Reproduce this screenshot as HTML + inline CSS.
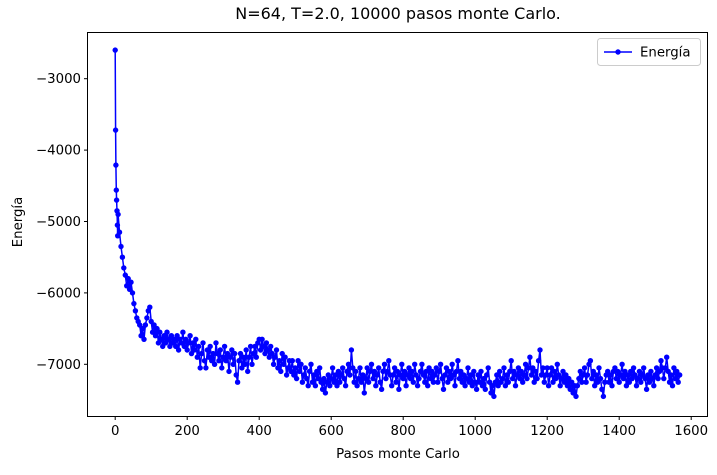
<!DOCTYPE html>
<html><head><meta charset="utf-8"><style>
body{margin:0;background:#fff;width:717px;height:470px;overflow:hidden}
svg{font-family:"DejaVu Sans","Liberation Sans",sans-serif}
</style></head><body>
<svg id="chart" width="717" height="470">
<text x="398" y="19" font-size="16" text-anchor="middle">N=64, T=2.0, 10000 pasos monte Carlo.</text>
<text x="398" y="458" font-size="13.3" text-anchor="middle">Pasos monte Carlo</text>
<text x="22" y="222" font-size="13.3" text-anchor="middle" transform="rotate(-90 22 222)">Energía</text>
<g id="ticks"></g>
<g id="series"></g>
<rect x="87.5" y="32.5" width="620" height="384" fill="none" stroke="#000" stroke-width="1"/>
<g>
<rect x="597.5" y="38.5" width="103" height="27" rx="3" fill="#fff" stroke="#ccc"/>
<line x1="604" y1="52" x2="632" y2="52" stroke="#0000ff" stroke-width="1.5"/>
<circle cx="618" cy="52" r="2.7" fill="#0000ff"/>
<text x="640" y="56.5" font-size="13.3">Energía</text>
</g>
</svg>
<script>
const earlySteps=[0,1,2,3,4,5,6,7];
const earlyEnergy=[-2600,-3720,-4210,-4560,-4700,-4850,-5050,-5200];
const stepStride=4;
const energy=[
-4900,-5150,-5350,-5500,-5650,-5750,-5900,-5800,-5950,-5850,-6000,-6150,-6250,-6350,-6400,-6450,-6600,-6500,-6650,-6450,
-6350,-6250,-6200,-6400,-6550,-6450,-6600,-6500,-6700,-6550,-6650,-6750,-6600,-6700,-6550,-6650,-6750,-6600,-6700,-6650,
-6750,-6600,-6800,-6650,-6700,-6550,-6750,-6650,-6800,-6700,-6600,-6850,-6700,-6800,-6650,-6900,-6750,-7050,-6850,-6700,
-6950,-7050,-6800,-6900,-6750,-6950,-6850,-7000,-6700,-6850,-6950,-6800,-7050,-6900,-6750,-6950,-6850,-7100,-6900,-6800,
-7000,-6850,-7150,-7250,-6950,-6850,-7050,-6900,-7000,-6800,-7100,-6900,-6750,-7000,-6850,-6750,-6900,-6700,-6650,-6800,
-6650,-6750,-6850,-6700,-6800,-6900,-6750,-6850,-7000,-6900,-6800,-7050,-6950,-7100,-6850,-7000,-6900,-7150,-7050,-6950,
-7100,-6950,-7150,-7050,-7200,-6950,-7100,-7000,-7250,-7150,-7050,-7200,-7300,-7100,-7000,-7250,-7150,-7300,-7100,-7200,
-7050,-7250,-7350,-7200,-7400,-7250,-7150,-7300,-7200,-7050,-7250,-7150,-7300,-7100,-7250,-7150,-7050,-7200,-7300,-7100,
-7000,-7150,-6800,-7050,-7250,-7100,-7300,-7200,-7050,-7250,-7150,-7400,-7200,-7050,-7250,-7100,-7000,-7200,-7100,-7300,
-7150,-7050,-7250,-7350,-7100,-7000,-7200,-7100,-6950,-7150,-7300,-7150,-7050,-7250,-7100,-7350,-7150,-7000,-7200,-7100,
-7300,-7150,-7050,-7200,-7100,-7250,-7000,-7150,-7300,-7200,-7100,-7000,-7150,-7250,-7100,-7300,-7050,-7200,-7100,-7250,
-7150,-7050,-7250,-7100,-7000,-7200,-7350,-7150,-7050,-7250,-7100,-7200,-7000,-7150,-7300,-7100,-6950,-7200,-7100,-7250,
-7150,-7300,-7200,-7050,-7250,-7150,-7300,-7100,-7250,-7350,-7150,-7250,-7100,-7300,-7200,-7350,-7150,-7050,-7250,-7400,
-7300,-7450,-7250,-7150,-7300,-7100,-7250,-7200,-7050,-7300,-7150,-7250,-7100,-6950,-7200,-7100,-7300,-7150,-7050,-7200,
-7100,-7250,-7150,-7000,-7200,-7050,-6900,-7150,-7050,-7250,-7100,-7200,-6950,-6800,-7150,-7050,-7250,-7150,-7050,-7300,
-7150,-7050,-7250,-7100,-7200,-7000,-7150,-7300,-7200,-7100,-7250,-7150,-7300,-7200,-7350,-7250,-7400,-7300,-7450,-7300,
-7200,-7100,-7250,-7150,-7050,-7250,-7150,-7000,-6950,-7200,-7100,-7300,-7150,-7250,-7050,-7200,-7350,-7450,-7250,-7150,
-7100,-7250,-7150,-7300,-7100,-7050,-7200,-7100,-7250,-7150,-7000,-7200,-7100,-7300,-7150,-7250,-7100,-7200,-7050,-7150,
-7300,-7200,-7100,-7250,-7150,-7050,-7200,-7350,-7150,-7250,-7100,-7200,-7300,-7150,-7050,-7200,-7100,-6950,-7050,-7200,
-7050,-6900,-7100,-7250,-7150,-7300,-7050,-7200,-7100,-7250,-7150];
const xTicks=[0,200,400,600,800,1000,1200,1400,1600];
const yTicks=[-3000,-4000,-5000,-6000,-7000];
const NS="http://www.w3.org/2000/svg";
function xs(v){return 115.2+v*(72.0/200);}
function ys(v){return 78.7-(v+3000)*0.0714;}
const tg=document.getElementById('ticks');
xTicks.forEach(t=>{
 const l=document.createElementNS(NS,'line');
 l.setAttribute('x1',xs(t));l.setAttribute('x2',xs(t));l.setAttribute('y1',416.5);l.setAttribute('y2',420);l.setAttribute('stroke','#000');
 
 
 tg.appendChild(l);
 const s=document.createElementNS(NS,'text');
 s.setAttribute('x',xs(t));s.setAttribute('y',435);s.setAttribute('font-size','13.3');s.setAttribute('text-anchor','middle');
 s.textContent=t;
 
 
 tg.appendChild(s);
});
yTicks.forEach(t=>{
 const l=document.createElementNS(NS,'line');
 l.setAttribute('x1',84);l.setAttribute('x2',87.5);l.setAttribute('y1',ys(t));l.setAttribute('y2',ys(t));l.setAttribute('stroke','#000');
 
 
 tg.appendChild(l);
 const s=document.createElementNS(NS,'text');
 s.setAttribute('x',81);s.setAttribute('y',ys(t)+4.5);s.setAttribute('font-size','13.3');s.setAttribute('text-anchor','end');
 s.textContent='\u2212'+Math.abs(t);
 
 
 tg.appendChild(s);
});
const pts=[];
earlySteps.forEach((x,i)=>pts.push([x,earlyEnergy[i]]));
energy.forEach((v,i)=>pts.push([8+stepStride*i,v]));
const sg=document.getElementById('series');
const pl=document.createElementNS(NS,'polyline');
pl.setAttribute('points',pts.map(p=>xs(p[0]).toFixed(1)+','+ys(p[1]).toFixed(1)).join(' '));
pl.setAttribute('fill','none');pl.setAttribute('stroke','#0000ff');pl.setAttribute('stroke-width','1.5');


sg.appendChild(pl);
pts.forEach(p=>{
 const c=document.createElementNS(NS,'circle');
 c.setAttribute('cx',xs(p[0]).toFixed(1));c.setAttribute('cy',ys(p[1]).toFixed(1));c.setAttribute('r','2.7');c.setAttribute('fill','#0000ff');
 
 
 sg.appendChild(c);
});
</script>
</body></html>
